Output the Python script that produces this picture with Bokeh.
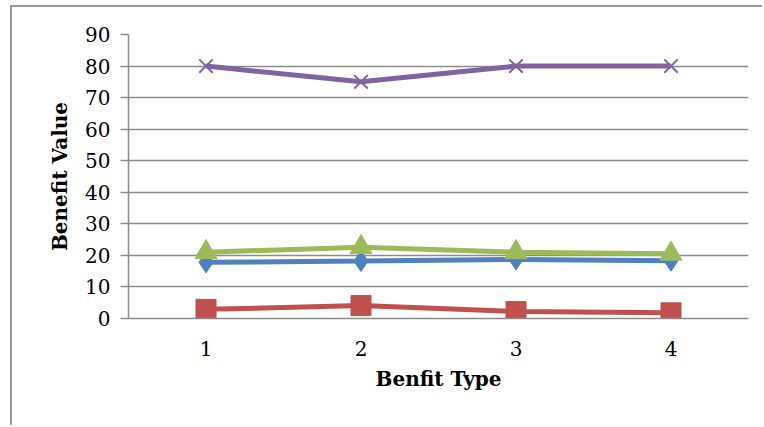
from bokeh.plotting import figure
from bokeh.models import FixedTicker, Range1d
from bokeh.embed import file_html
from bokeh.resources import INLINE

benefit_type = [1, 2, 3, 4]
series_blue = [17.8, 18.2, 18.7, 18.3]
series_red = [2.9, 4.1, 2.2, 1.8]
series_green = [21.0, 22.6, 21.0, 20.5]
series_purple = [80, 75, 80, 80]
y_ticks = [0, 10, 20, 30, 40, 50, 60, 70, 80, 90]

FONT = "DejaVu Serif"
GRID = "#8c8c8c"

# figure placed at (12, 7) inside a 2px left/top border starting at (10, 5)
p = figure(width=752, height=420, output_backend="svg", toolbar_location=None,
           x_range=Range1d(0.5, 4.5), y_range=Range1d(0, 90),
           min_border_left=116, min_border_top=27, min_border_right=16,
           min_border_bottom=109,
           margin=(5, 0, 0, 10),
           styles={"border-left": "2px solid #9a9a9a", "border-top": "2px solid #9a9a9a"})
p.outline_line_color = None
p.background_fill_color = "white"
p.border_fill_color = "white"

p.xgrid.visible = False
p.ygrid.grid_line_color = GRID
p.ygrid.grid_line_width = 1.5
p.ygrid.ticker = FixedTicker(ticks=y_ticks)

p.yaxis.ticker = FixedTicker(ticks=y_ticks)
p.yaxis.axis_line_color = GRID
p.yaxis.axis_line_width = 1.5
p.yaxis.major_tick_line_color = GRID
p.yaxis.major_tick_line_width = 1.5
p.yaxis.major_tick_out = 8
p.yaxis.major_tick_in = 0
p.yaxis.minor_tick_line_color = None
p.yaxis.major_label_standoff = 10
p.yaxis.major_label_text_font = FONT
p.yaxis.major_label_text_font_size = "20px"
p.yaxis.major_label_text_color = "black"
p.yaxis.axis_label = "Benefit Value"
p.yaxis.axis_label_text_font = FONT
p.yaxis.axis_label_text_font_style = "bold"
p.yaxis.axis_label_text_font_size = "20px"
p.yaxis.axis_label_text_color = "black"
p.yaxis.axis_label_standoff = 10

p.xaxis.ticker = FixedTicker(ticks=benefit_type)
p.xaxis.axis_line_color = GRID
p.xaxis.axis_line_width = 1.5
p.xaxis.major_tick_line_color = None
p.xaxis.minor_tick_line_color = None
p.xaxis.major_tick_out = 0
p.xaxis.major_label_standoff = 22
p.xaxis.major_label_text_font = FONT
p.xaxis.major_label_text_font_size = "20px"
p.xaxis.major_label_text_color = "black"
p.xaxis.axis_label = "Benfit Type"
p.xaxis.axis_label_text_font = FONT
p.xaxis.axis_label_text_font_style = "bold"
p.xaxis.axis_label_text_font_size = "20px"
p.xaxis.axis_label_text_color = "black"
p.xaxis.axis_label_standoff = 8

blue, red, green, purple = "#4F81BD", "#C0504D", "#9BBB59", "#8064A2"

p.line(benefit_type, series_blue, line_color=blue, line_width=5)
p.scatter(benefit_type, series_blue, marker="diamond", size=21, fill_color=blue, line_color=blue)

p.line(benefit_type, series_red, line_color=red, line_width=5)
p.scatter(benefit_type, series_red, marker="square", size=20, fill_color=red, line_color=red)

p.line(benefit_type, series_green, line_color=green, line_width=5)
p.scatter(benefit_type, series_green, marker="triangle", size=22, fill_color=green, line_color=green)

p.line(benefit_type, series_purple, line_color=purple, line_width=5)
p.scatter(benefit_type, series_purple, marker="x", size=19, line_color=purple, line_width=2)

open("out.html", "w").write(file_html(p, INLINE))
